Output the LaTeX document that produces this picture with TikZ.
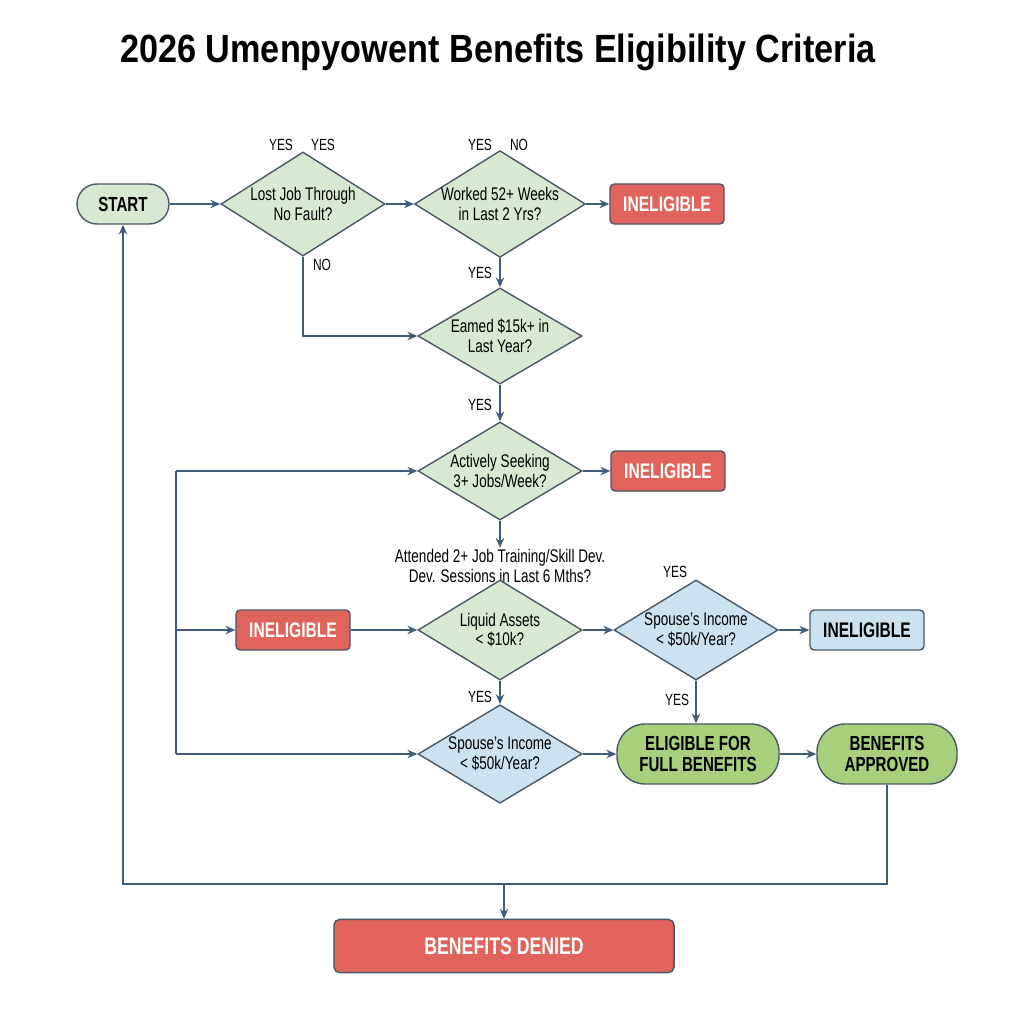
\documentclass[tikz,border=0pt]{standalone}
\usepackage{fontspec}
\setmainfont{Liberation Sans}[FakeStretch=0.74]
\newfontfamily\titlefont{Liberation Sans}[FakeStretch=0.87]
\usetikzlibrary{shapes.geometric,arrows.meta}

\definecolor{lineblue}{HTML}{3F5C7A}
\definecolor{edgegray}{HTML}{4B5866}
\definecolor{qgreen}{HTML}{D8E8D2}
\definecolor{qblue}{HTML}{CDE2F0}
\definecolor{boxred}{HTML}{E0645B}
\definecolor{okgreen}{HTML}{A8CF7B}

\tikzset{
  question/.style={diamond, draw=edgegray, line width=1pt, shape aspect=1.6,
    inner sep=0pt, minimum width=4.1cm, minimum height=2.5cm, align=center,
    font=\fontsize{13}{14}\selectfont},
  qgreenbox/.style={question, fill=qgreen},
  qbluebox/.style={question, fill=qblue},
  nobox/.style={rectangle, draw=edgegray, line width=1pt, fill=boxred, text=white,
    rounded corners=3pt, minimum width=2.85cm, minimum height=1cm,
    font=\bfseries\fontsize{15}{16}\selectfont},
  infobox/.style={nobox, fill=qblue, text=black},
  pill/.style={rectangle, draw=edgegray, line width=1pt, align=center,
    font=\bfseries\fontsize{14.5}{15.5}\selectfont},
  answer/.style={font=\fontsize{11.5}{12}\selectfont, inner sep=1pt},
  flow/.style={draw=lineblue, line width=1pt, -{Stealth[length=7pt,width=6pt]}}
}

\begin{document}
\begin{tikzpicture}[x=0.025cm, y=-0.025cm]
\useasboundingbox (0,0) rectangle (1024,1024);

% title
\node[font=\titlefont\bfseries\fontsize{28}{30}\selectfont] (title) at (498,52)
  {2026 Umenpyowent Benefits Eligibility Criteria};

% first row
\node[pill, fill=qgreen, rounded corners=0.5cm, minimum width=2.3cm, minimum height=1cm] (start) at (123,204) {START};
\node[qgreenbox, minimum height=2.6cm] (lost) at (303,204) {Lost Job Through\\No Fault?};
\node[qgreenbox, minimum height=2.6cm] (worked) at (500,204) {Worked 52+ Weeks\\in Last 2 Yrs?};
\node[nobox] (inelA) at (667,204) {INELIGIBLE};

% middle column
\node[qgreenbox, minimum height=2.4cm] (earned) at (500,336) {Eamed \$15k+ in\\Last Year?};
\node[qgreenbox, minimum height=2.45cm] (seeking) at (500,471) {Actively Seeking\\3+ Jobs/Week?};
\node[nobox] (inelB) at (668,471) {INELIGIBLE};
\node[align=center, font=\fontsize{13}{14}\selectfont, inner sep=1pt] (attend) at (500,566)
  {Attended 2+ Job Training/Skill Dev.\\Dev. Sessions in Last 6 Mths?};

% assets row
\node[nobox] (inelC) at (293,630) {INELIGIBLE};
\node[qgreenbox] (assets) at (500,630) {Liquid Assets\\< \$10k?};
\node[qbluebox] (spouseA) at (696,630) {Spouse's Income\\< \$50k/Year?};
\node[infobox] (inelD) at (867,630) {INELIGIBLE};

% last row
\node[qbluebox, minimum height=2.45cm] (spouseB) at (500,754) {Spouse's Income\\< \$50k/Year?};
\node[pill, fill=okgreen, rounded corners=0.7cm, minimum width=4.05cm, minimum height=1.5cm] (full) at (698,754) {ELIGIBLE FOR\\FULL BENEFITS};
\node[pill, fill=okgreen, rounded corners=0.7cm, minimum width=3.5cm, minimum height=1.5cm] (approved) at (887,754) {BENEFITS\\APPROVED};
\node[nobox, rounded corners=4pt, minimum width=8.5cm, minimum height=1.33cm,
  font=\bfseries\fontsize{17}{18}\selectfont] (denied) at (504,946) {BENEFITS DENIED};

% answers
\node[answer] (ansA) at (281,145) {YES};
\node[answer] (ansB) at (323,145) {YES};
\node[answer] (ansC) at (480,145) {YES};
\node[answer] (ansD) at (519,145) {NO};
\node[answer] (ansE) at (322,265) {NO};
\node[answer] (ansF) at (480,273) {YES};
\node[answer] (ansG) at (480,405) {YES};
\node[answer] (ansH) at (675,572) {YES};
\node[answer] (ansI) at (480,697) {YES};
\node[answer] (ansJ) at (677,700) {YES};

% bus and loop points
\coordinate (busT) at (176,471);
\coordinate (busM) at (176,630);
\coordinate (busB) at (176,754);
\coordinate (loopL) at (123,884);
\coordinate (loopM) at (504,884);

% connectors
\draw[flow] (start) -- (lost);
\draw[flow] (lost) -- (worked);
\draw[flow] (worked) -- (inelA);
\draw[flow] (lost.south) |- (earned.west);
\draw[flow] (worked) -- (earned);
\draw[flow] (earned) -- (seeking);
\draw[flow] (seeking) -- (inelB);
\draw[flow] (seeking) -- (attend);
\draw[draw=lineblue, line width=1pt] (busT) -- (busB);
\draw[flow] (busT) -- (seeking.west);
\draw[flow] (busM) -- (inelC);
\draw[flow] (busB) -- (spouseB.west);
\draw[flow] (inelC) -- (assets);
\draw[flow] (assets) -- (spouseA);
\draw[flow] (spouseA) -- (inelD);
\draw[flow] (spouseA.south) -- (spouseA.south |- full.north);
\draw[flow] (assets) -- (spouseB);
\draw[flow] (spouseB) -- (full);
\draw[flow] (full) -- (approved);
\draw[flow] (approved.south) |- (loopL) -- (start.south);
\draw[flow] (loopM) -- (denied);
\end{tikzpicture}
\end{document}
